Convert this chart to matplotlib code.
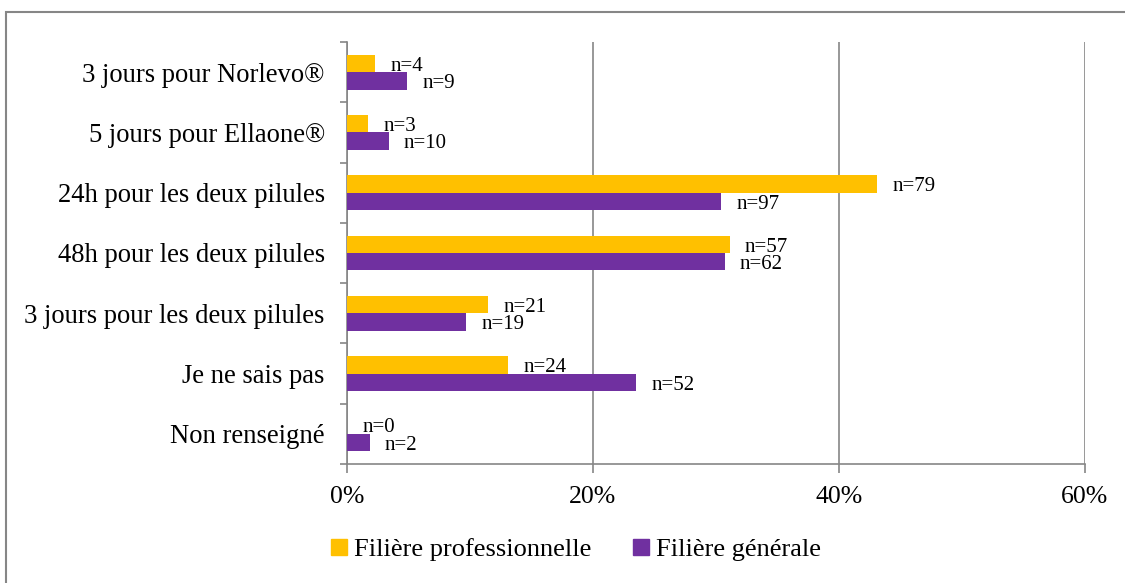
import matplotlib
matplotlib.use("Agg")
import matplotlib.pyplot as plt
from matplotlib.patches import Patch, Rectangle
import numpy as np

plt.rcParams['font.family'] = ['Liberation Serif', 'DejaVu Serif']

# données (pourcentages)
categories = ["3 jours pour Norlevo®", "5 jours pour Ellaone®", "24h pour les deux pilules",
              "48h pour les deux pilules", "3 jours pour les deux pilules", "Je ne sais pas",
              "Non renseigné"]
pro_pct = [2.28, 1.71, 43.1, 31.1, 11.5, 13.1, 0.0]
gen_pct = [4.88, 3.39, 30.4, 30.7, 9.7, 23.5, 1.84]
pro_n = [4, 3, 79, 57, 21, 24, 0]
gen_n = [9, 10, 97, 62, 19, 52, 2]
series_names = ["Filière professionnelle", "Filière générale"]
xticks = [0, 20, 40, 60]

jaune = "#FFC000"
violet = "#7030A0"
gris = "#868686"

fig = plt.figure(figsize=(11.25, 5.83), dpi=100)
ax = fig.add_axes([347 / 1125, 1 - 464 / 583, (1085 - 347) / 1125, (464 - 42) / 583])

y = np.arange(len(categories))
h = 0.29
ax.barh(y - h / 2, pro_pct, height=h, color=jaune, zorder=3)
ax.barh(y + h / 2, gen_pct, height=h, color=violet, zorder=3)

# étiquettes n=
for i in range(len(categories)):
    ax.annotate("n=%d" % pro_n[i], (pro_pct[i], y[i] - h / 2), xytext=(11, -2),
                textcoords="offset points", ha="left", va="center", fontsize=15)
    ax.annotate("n=%d" % gen_n[i], (gen_pct[i], y[i] + h / 2), xytext=(11, -2),
                textcoords="offset points", ha="left", va="center", fontsize=15)

ax.set_xlim(0, 60)
ax.set_ylim(len(categories) - 0.5, -0.5)
ax.set_xticks(xticks)
ax.set_xticklabels(["%d%%" % t for t in xticks], fontsize=18.5)
ax.set_yticks(y)
ax.set_yticklabels(categories, fontsize=19.2)
ax.set_yticks(np.arange(len(categories) + 1) - 0.5, minor=True)
ax.tick_params(axis="y", which="major", length=0, pad=16)
ax.tick_params(axis="y", which="minor", length=5, color=gris, width=1.2)
ax.tick_params(axis="x", length=6.5, color=gris, width=1.2, pad=9)

ax.grid(axis="x", color=gris, linewidth=1.2, zorder=0)
for s in ["top", "right"]:
    ax.spines[s].set_visible(False)
for s in ["left", "bottom"]:
    ax.spines[s].set_color(gris)
    ax.spines[s].set_linewidth(1.2)

handles = [Patch(color=jaune), Patch(color=violet)]
fig.legend(handles, series_names, loc="center", bbox_to_anchor=(0.512, 0.057), ncol=2,
           frameon=False, fontsize=19, handlelength=0.6, handleheight=0.6,
           handletextpad=0.25, columnspacing=1.6)

# cadre du graphique
fig.patches.append(Rectangle((6 / 1125, -0.5), 2, 0.5 + 1 - 12 / 583, fill=False,
                             edgecolor=gris, linewidth=1.5, transform=fig.transFigure))

fig.savefig("out.png", dpi=100)
